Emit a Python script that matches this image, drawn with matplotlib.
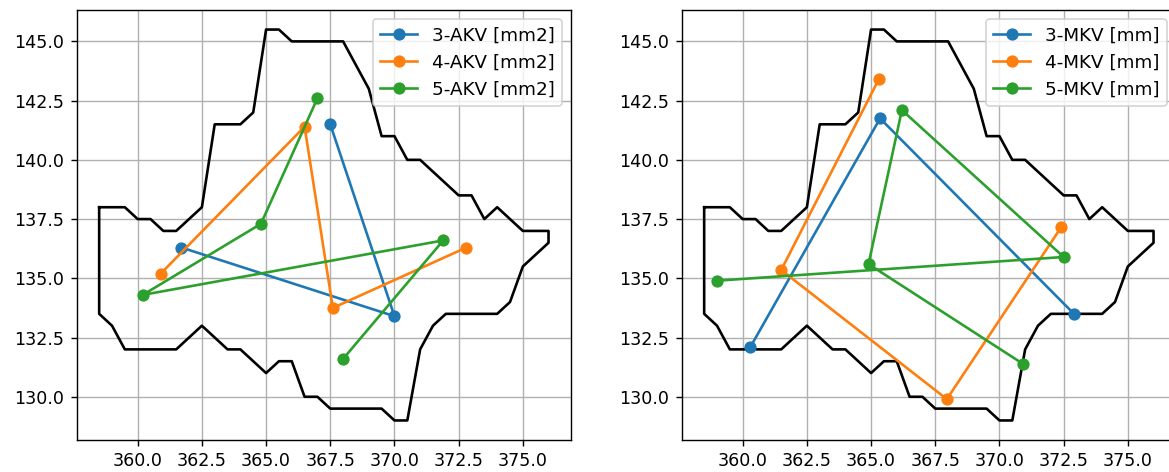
import matplotlib
matplotlib.use("Agg")
import matplotlib.pyplot as plt

# Boundary outline (x, y), closed polygon
outline_x = [358.5, 359.5, 360.0, 360.5, 361.0, 361.5, 362.5, 363.0, 364.0, 364.5,
             365.0, 365.5, 366.0, 368.0, 368.5, 369.0, 369.5, 370.0, 370.5, 371.0,
             372.5, 373.0, 373.5, 374.0, 375.0, 376.0, 376.0, 375.0, 374.5, 374.0,
             372.0, 371.5, 371.0, 370.5, 370.0, 369.5, 367.5, 367.0, 366.5, 366.0,
             365.5, 365.0, 364.0, 363.5, 362.5, 361.5, 359.5, 359.0, 358.5, 358.5]
outline_y = [138.0, 138.0, 137.5, 137.5, 137.0, 137.0, 138.0, 141.5, 141.5, 142.0,
             145.5, 145.5, 145.0, 145.0, 144.0, 143.0, 141.0, 141.0, 140.0, 140.0,
             138.5, 138.5, 137.5, 138.0, 137.0, 137.0, 136.5, 135.5, 134.0, 133.5,
             133.5, 133.0, 132.0, 129.0, 129.0, 129.5, 129.5, 130.0, 130.0, 131.5,
             131.5, 131.0, 132.0, 132.0, 133.0, 132.0, 132.0, 133.0, 133.5, 138.0]

# Left panel series
akv3_x = [367.5, 370.0, 361.7]
akv3_y = [141.5, 133.4, 136.3]
akv4_x = [360.9, 366.5, 367.6, 372.8]
akv4_y = [135.2, 141.4, 133.75, 136.3]
akv5_x = [367.0, 364.8, 360.2, 371.9, 368.0]
akv5_y = [142.6, 137.3, 134.3, 136.6, 131.6]

# Right panel series
mkv3_x = [360.3, 365.35, 372.9]
mkv3_y = [132.1, 141.75, 133.5]
mkv4_x = [365.3, 361.5, 367.95, 372.4]
mkv4_y = [143.4, 135.35, 129.9, 137.15]
mkv5_x = [359.0, 372.5, 366.2, 364.9, 370.9]
mkv5_y = [134.9, 135.9, 142.1, 135.6, 131.4]

left_series = [("3-AKV [mm2]", akv3_x, akv3_y),
               ("4-AKV [mm2]", akv4_x, akv4_y),
               ("5-AKV [mm2]", akv5_x, akv5_y)]
right_series = [("3-MKV [mm]", mkv3_x, mkv3_y),
                ("4-MKV [mm]", mkv4_x, mkv4_y),
                ("5-MKV [mm]", mkv5_x, mkv5_y)]

DPI = 126
W, H = 1169, 472
fig = plt.figure(figsize=(W / DPI, H / DPI), dpi=DPI)
ax_w = 494.3 / W
ax_h = 430 / H
ax_b = 32 / H
ax1 = fig.add_axes([76.7 / W, ax_b, ax_w, ax_h])
ax2 = fig.add_axes([681.7 / W, ax_b, ax_w, ax_h])

for ax, series in ((ax1, left_series), (ax2, right_series)):
    ax.plot(outline_x, outline_y, color="black", lw=1.5)
    for label, xs, ys in series:
        ax.plot(xs, ys, marker="o", lw=1.5, label=label)
    ax.grid(True)
    ax.legend(loc="upper right", fontsize=10.5)

fig.savefig("out.png", dpi=DPI)
